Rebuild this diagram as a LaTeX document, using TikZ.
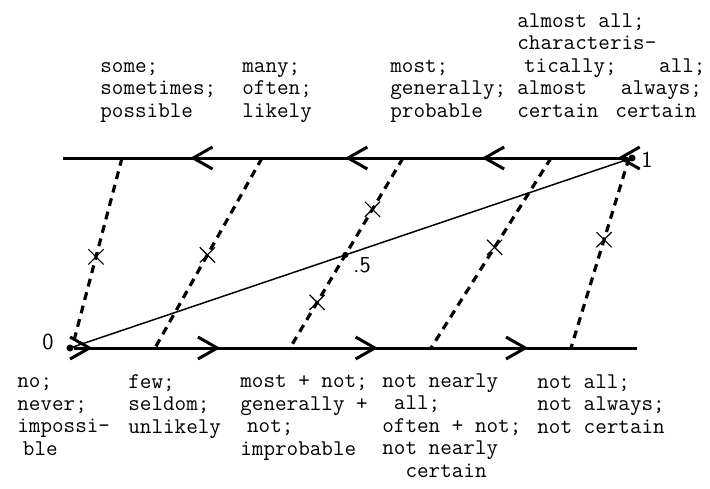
\documentclass[tikz,border=0pt]{standalone}
\usetikzlibrary{arrows.meta,decorations.markings,shapes.misc,intersections}

\begin{document}
\begin{tikzpicture}[x=0.02cm, y=-0.02cm,
    mainline/.style={line width=1.7pt},
    thinline/.style={line width=0.85pt},
    dashline/.style={line width=1.8pt, dash pattern=on 4.5pt off 3.4pt},
    xmark/.style={cross out, draw, solid, line width=0.65pt, minimum size=8pt, inner sep=0pt},
    spot/.style={circle, fill, inner sep=0pt, minimum size=#1},
    words/.style={anchor=base west, align=left, inner sep=0pt,
        font=\fontsize{12.8}{12.76}\selectfont\ttfamily},
    numlab/.style={font=\fontsize{13}{15}\selectfont\sffamily},
    chev/.tip={Straight Barb[length=11pt, width=12.5pt]},
    barb at/.style={postaction={decorate,
        decoration={markings, mark=at position #1 with {\arrow{chev}}}}}]
    \useasboundingbox (0,0) rectangle (710,488);

    % 端点 0 与 1
    \coordinate (topL) at (63,158);
    \coordinate (botR) at (637,348);
    \node[spot=4pt] (zero) at (70,348) {};
    \node[spot=4pt] (one) at (632,158) {};
    \node[numlab] (lab0) at (48,342) {0};
    \node[numlab] (lab1) at (647,160) {1};

    % 上下两条线
    \draw[mainline, barb at=0.019, barb at=0.259, barb at=0.501, barb at=0.775]
        (one) -- (topL);
    \draw[mainline, barb at=0.033, barb at=0.26, barb at=0.54, barb at=0.807]
        (zero) -- (botR);

    % 对角线
    \draw[thinline, name path=diag] (zero) -- (one);

    % 虚线
    \foreach \i/\a/\b in {1/122/72, 2/262/155, 3/403/290, 4/551/431, 5/629/571} {
        \coordinate (t\i) at (\a,158);
        \coordinate (b\i) at (\b,348);
    }
    \draw[dashline] (t1) -- node[xmark, pos=0.52] (x1) {} (b1);
    \draw[dashline] (t2) -- node[xmark, pos=0.51] (x2) {} (b2);
    \draw[dashline, name path=mid] (t3) -- node[xmark, pos=0.27] (x3) {}
        node[xmark, pos=0.76] (x4) {} (b3);
    \draw[dashline] (t4) -- node[xmark, pos=0.47] (x5) {} (b4);
    \draw[dashline] (t5) -- node[xmark, pos=0.43] (x6) {} (b5);

    % 中点
    \path[name intersections={of=diag and mid, by=h}];
    \node[spot=3.5pt] (half) at (h) {};
    \node[numlab] (lab5) at (362,265) {.5};

    % 上方标注 (基线为最后一行)
    \node[words] (some) at (100,117) {some;\\sometimes;\\possible};
    \node[words] (many) at (242,117) {many;\\often;\\likely};
    \node[words] (most) at (390,117) {most;\\generally;\\probable};
    \node[words] (almost) at (517,117)
        {almost all;\\characteris-\\\hspace{.3em}tically;\\almost\\certain};
    \node[words] (all) at (615,117) {\hspace{1.95em}all;\\\hspace{.25em}always;\\certain};

    % 下方标注
    \node[words] (no) at (17,455) {no;\\never;\\impossi-\\\hspace{.25em}ble};
    \node[words] (few) at (128,433) {few;\\seldom;\\unlikely};
    \node[words] (mostnot) at (240,455)
        {most + not;\\generally +\\\hspace{.3em}not;\\improbable};
    \node[words] (nearly) at (382,477)
        {not nearly\\~all;\\often + not;\\not nearly\\~~certain};
    \node[words] (notall) at (537,433) {not all;\\not always;\\not certain};

\end{tikzpicture}
\end{document}
